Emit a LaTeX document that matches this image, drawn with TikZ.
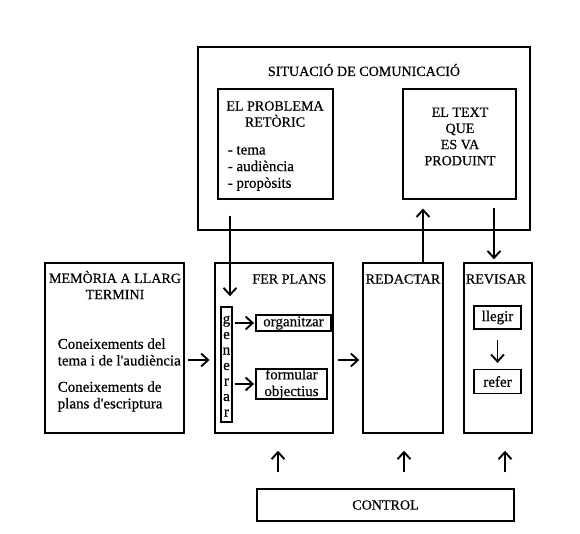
\documentclass[tikz,border=0pt]{standalone}
\usepackage{fontspec}
\setmainfont{Liberation Serif}[FakeBold=0.5]
\usetikzlibrary{positioning,arrows.meta,calc}

\begin{document}
\begin{tikzpicture}[x=0.03cm, y=-0.03cm, line width=1.3pt,
  box/.style={draw, inner sep=0pt},
  txt/.style={font=\fontsize{12}{13.8}\selectfont, inner sep=0pt},
  lowtxt/.style={font=\fontsize{12.8}{14.2}\selectfont, inner sep=0pt},
  arr/.style={-{Straight Barb[length=6pt, width=11pt]}, line width=1.6pt}]
\useasboundingbox (0,0) rectangle (580,534);

% situacio de comunicacio
\node[box, minimum width=9.96cm, minimum height=5.49cm] (sit) at (364,138.5) {};
\node[txt] (sitt) at (364,70) {SITUACIÓ DE COMUNICACIÓ};
\node[box, minimum width=3.45cm, minimum height=3.3cm] (prob) at (275.5,144) {};
\node[txt, align=center] (probt) at (275,114) {EL PROBLEMA\\RETÒRIC};
\node[lowtxt, align=left, anchor=west] (probl) at (227,168.5) {- tema\\- audiència\\- propòsits};
\node[box, minimum width=3.39cm, minimum height=3.3cm] (text) at (459.5,144) {};
\node[txt, align=center] (textt) at (460,136.5) {EL TEXT\\QUE\\ES VA\\PRODUINT};

% memoria
\node[box, minimum width=4.17cm, minimum height=5.1cm] (mem) at (114.5,348) {};
\node[txt, align=center] (memt) at (115,285) {MEMÒRIA A LLARG\\TERMINI};
\node[lowtxt, align=left, anchor=west] (mem1) at (57,352) {Coneixements del\\tema i de l\textquotesingle audiència};
\node[lowtxt, align=left, anchor=west] (mem2) at (57,396.5) {Coneixements de\\plans d\textquotesingle escriptura};

% fer plans
\node[box, minimum width=3.54cm, minimum height=5.1cm] (plans) at (274,348) {};
\node[txt, anchor=east] (planst) at (327,279) {FER PLANS};
\node[box, minimum width=0.33cm, minimum height=3.45cm] (gen) at (226.5,364.5) {};
\foreach \l [count=\i] in {g,e,n,e,r,a,r}
  \node[lowtxt, anchor=base] (gen\i) at (226.5,308+15.5*\i) {\l};
\node[box, lowtxt, minimum width=2.25cm, minimum height=0.48cm] (org) at (293.5,323) {organitzar};
\node[box, lowtxt, align=center, minimum width=2.13cm, minimum height=0.9cm] (form) at (291.5,384) {formular\\objectius};

% redactar, revisar
\node[box, minimum width=2.4cm, minimum height=5.1cm] (red) at (403,348) {};
\node[txt] (redt) at (403,279) {REDACTAR};
\node[box, minimum width=2.04cm, minimum height=5.1cm] (rev) at (498,348) {};
\node[txt] (revt) at (496,279) {REVISAR};
\node[box, lowtxt, minimum width=1.41cm, minimum height=0.69cm] (lle) at (497.5,317.5) {llegir};
\node[box, lowtxt, minimum width=1.41cm, minimum height=0.72cm, below=1.17cm of lle] (ref) {refer};

% control
\node[box, txt, minimum width=7.71cm, minimum height=0.96cm] (ctrl) at (385.5,505) {CONTROL};

% fletxes
\coordinate (genin) at ($(gen.north)+(3.5,0)$);
\coordinate (redout) at ($(red.north)+(20,0)$);
\coordinate (revin) at ($(rev.north)+(-4,0)$);
\draw[arr, shorten <=13.5pt, shorten >=8.5pt] (genin |- prob.south) -- (genin);
\draw[arr, shorten >=7.5pt] (redout) -- (redout |- text.south);
\draw[arr, shorten <=7pt, shorten >=2.5pt] (revin |- text.south) -- (revin);
\draw[arr, shorten <=3pt, shorten >=4pt] ($(mem.east)+(0,12)$) -- ($(plans.west)+(0,12)$);
\draw[arr, shorten <=3.5pt, shorten >=2.5pt] ($(plans.east)+(0,12)$) -- ($(red.west)+(0,12)$);
\draw[arr, shorten <=1.5pt, shorten >=1pt] (org.west -| gen.east) -- (org.west);
\draw[arr, shorten <=1.5pt, shorten >=1pt] (form.west -| gen.east) -- (form.west);
\draw[arr, shorten <=9pt, shorten >=5pt] (lle) -- (ref);
\foreach \n/\dx in {plans/4, red/1, rev/7} {
  \coordinate (c\n) at ($(\n.south)+(\dx,0)$);
  \draw[arr, shorten <=13.5pt, shorten >=14.5pt] (c\n |- ctrl.north) -- (c\n);
}
\end{tikzpicture}
\end{document}
